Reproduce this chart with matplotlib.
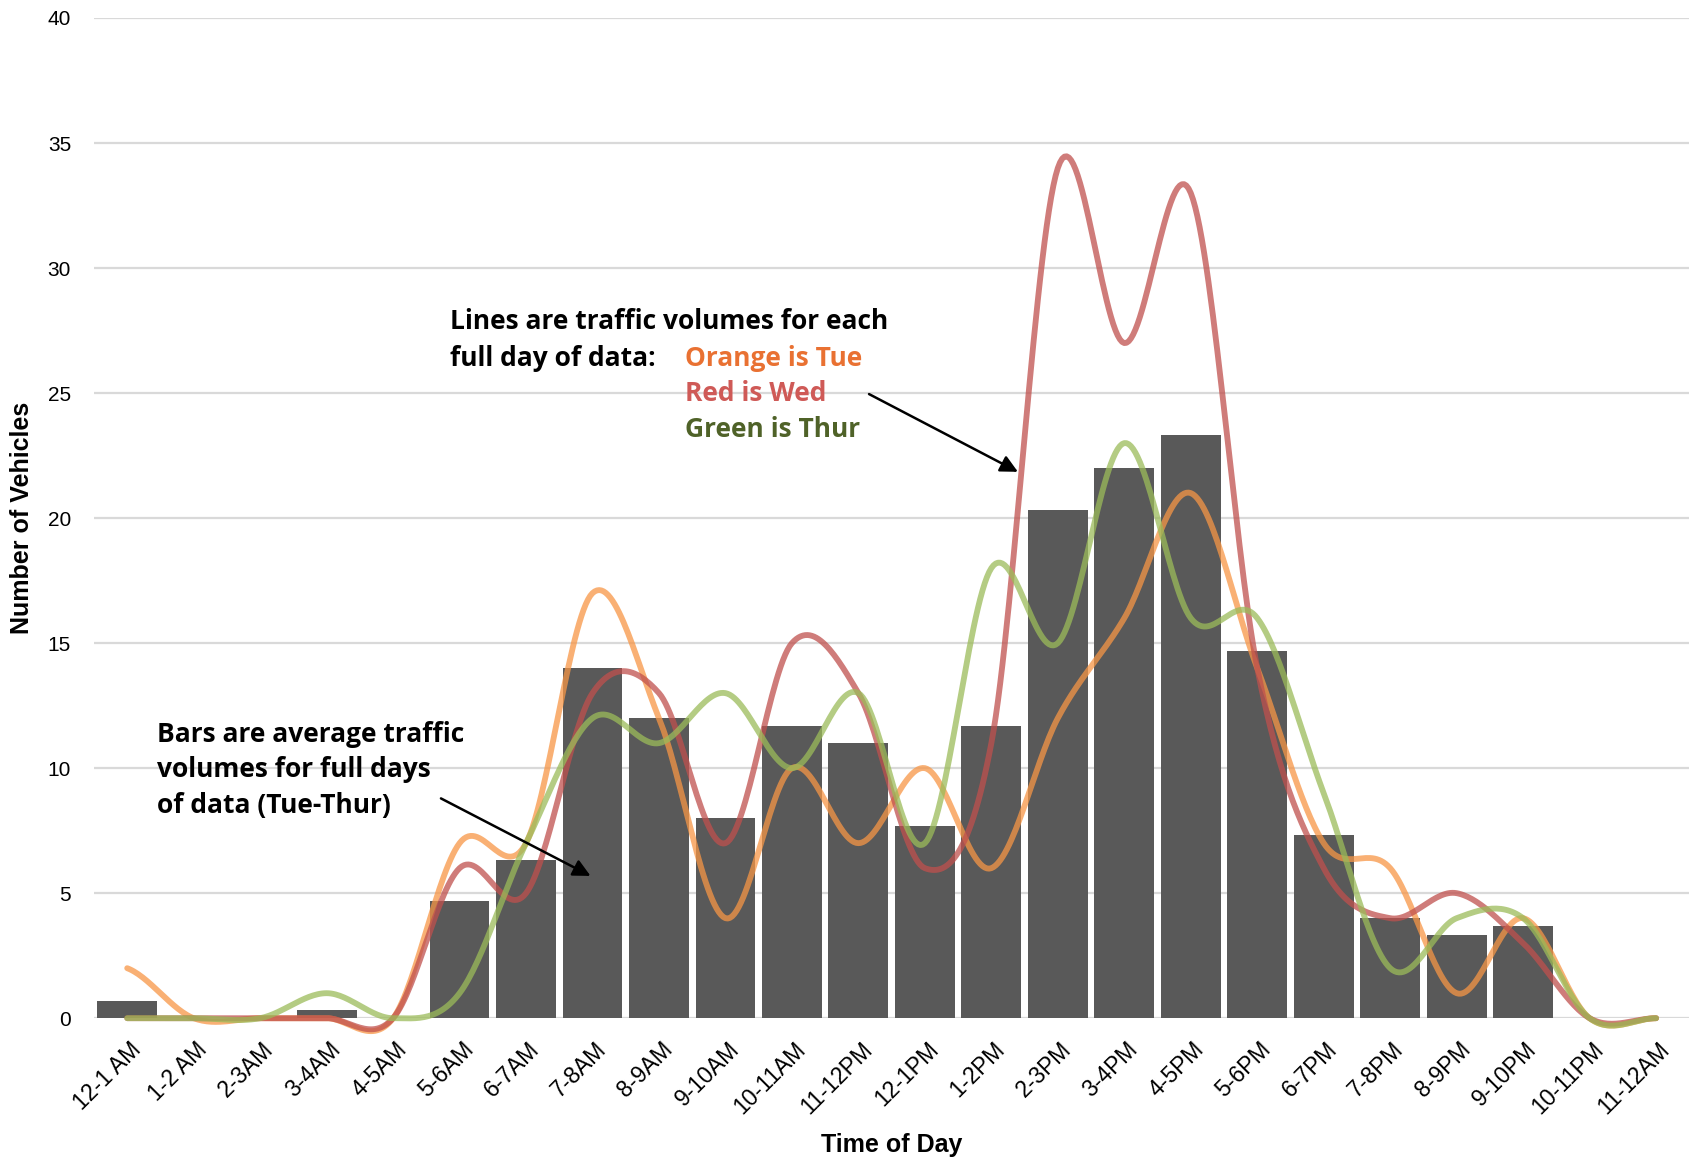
import numpy as np
import matplotlib
matplotlib.use("Agg")
from matplotlib import pyplot as plt
from matplotlib.transforms import ScaledTranslation

# hourly bins
hours = ["12-1 AM", "1-2 AM", "2-3AM", "3-4AM", "4-5AM", "5-6AM", "6-7AM", "7-8AM",
         "8-9AM", "9-10AM", "10-11AM", "11-12PM", "12-1PM", "1-2PM", "2-3PM", "3-4PM",
         "4-5PM", "5-6PM", "6-7PM", "7-8PM", "8-9PM", "9-10PM", "10-11PM", "11-12AM"]

# average of Tue-Thur (bars)
avg_volume = [0.67, 0, 0, 0.33, 0, 4.67, 6.33, 14, 12, 8, 11.67, 11, 7.67, 11.67,
              20.33, 22, 23.33, 14.67, 7.33, 4, 3.33, 3.67, 0, 0]

# single days (lines)
tue = [2, 0, 0, 0, 0, 7, 7, 17, 12, 4, 10, 7, 10, 6, 12, 16, 21, 14, 7, 6, 1, 4, 0, 0]
wed = [0, 0, 0, 0, 0, 6, 5, 13, 13, 7, 15, 13, 6, 11, 34, 27, 33, 14, 6, 4, 5, 3, 0, 0]
thu = [0, 0, 0, 1, 0, 1, 7, 12, 11, 13, 10, 13, 7, 18, 15, 23, 16, 16, 9, 2, 4, 4, 0, 0]

yticks = [0, 5, 10, 15, 20, 25, 30, 35, 40]


def smooth_line(y, n=30):
    '''
    excel style smoothed line (catmull-rom through every point)
    '''
    y = np.asarray(y, dtype=float)
    x = np.arange(len(y), dtype=float)
    # pad ends so that first/last tangents are one sided
    yp = np.concatenate([[y[0]], y, [y[-1]]])
    xs, ys = [], []
    for i in range(len(y) - 1):
        p0, p1, p2, p3 = yp[i], yp[i + 1], yp[i + 2], yp[i + 3]
        t = np.linspace(0, 1, n, endpoint=False)
        m1 = (p2 - p0) / 2
        m2 = (p3 - p1) / 2
        h00 = 2 * t**3 - 3 * t**2 + 1
        h10 = t**3 - 2 * t**2 + t
        h01 = -2 * t**3 + 3 * t**2
        h11 = t**3 - t**2
        xs.append(x[i] + t)
        ys.append(h00 * p1 + h10 * m1 + h01 * p2 + h11 * m2)
    xs.append([x[-1]])
    ys.append([y[-1]])
    return np.concatenate(xs), np.concatenate(ys)


fig = plt.figure(figsize=(16.9, 11.61), dpi=100)
ax = fig.add_axes([0.0556, 0.123, 0.944, 0.8615])

x = np.arange(len(hours))
ax.bar(x, avg_volume, width=0.9, color="#595959", zorder=2)

for day, col in [(tue, "#F79646"), (wed, "#C0504D"), (thu, "#9BBB59")]:
    sx, sy = smooth_line(day)
    ax.plot(sx, sy, color=col, lw=4.2, alpha=0.75, zorder=3,
            solid_capstyle="round", clip_on=False)

ax.set_xlim(-0.5, 23.5)
ax.set_ylim(0, 40)
ax.set_yticks(yticks)
ax.set_yticklabels([str(v) for v in yticks], fontsize=15, family="Liberation Sans")
ax.grid(axis="y", color="#D9D9D9", lw=1.6, zorder=0)
ax.set_axisbelow(True)
for s in ax.spines.values():
    s.set_visible(False)
ax.tick_params(axis="both", length=0)
ax.tick_params(axis="y", pad=16.5)

ax.set_xticks(x)
ax.set_xticklabels(hours, rotation=45, ha="right", va="top",
                   rotation_mode="anchor", fontsize=16.5, family="Liberation Sans")
ax.tick_params(axis="x", pad=14)
for lab in ax.get_xticklabels():
    lab.set_transform(lab.get_transform() + ScaledTranslation(0.02, 0, fig.dpi_scale_trans))

lab_font = ["Liberation Sans Narrow", "Liberation Sans"]
ax.set_xlabel("Time of Day", fontsize=18, fontweight="bold", family=lab_font, va="center")
ax.xaxis.set_label_coords(0.5, -0.127)
ax.set_ylabel("Number of Vehicles", fontsize=18, fontweight="bold", family=lab_font, va="center")
ax.yaxis.set_label_coords(-0.0454, 0.5)

note_font = ["Open Sans", "DejaVu Sans"]
note_size = 19
note = dict(fontsize=note_size, fontweight="bold", family=note_font,
            va="baseline", ha="left", zorder=5)

ax.text(4.85, 27.56, "Lines are traffic volumes for each", **note)
ax.text(4.85, 26.10, "full day of data:", **note)
ax.text(8.39, 26.10, "Orange is Tue", color="#E97132", **note)
ax.text(8.39, 24.68, "Red is Wed", color="#CF5A57", **note)
ax.text(8.39, 23.25, "Green is Thur", color="#4F6228", **note)

ax.text(0.45, 11.06, "Bars are average traffic", **note)
ax.text(0.45, 9.63, "volumes for full days", **note)
ax.text(0.45, 8.21, "of data (Tue-Thur)", **note)

arrow = dict(arrowstyle="-|>", color="black", lw=1.8, mutation_scale=26, shrinkA=0, shrinkB=0)
ax.annotate("", xy=(13.4, 21.85), xytext=(11.16, 24.96), arrowprops=arrow, zorder=6)
ax.annotate("", xy=(6.97, 5.69), xytext=(4.72, 8.79), arrowprops=arrow, zorder=6)

fig.savefig("out.png", dpi=100)
